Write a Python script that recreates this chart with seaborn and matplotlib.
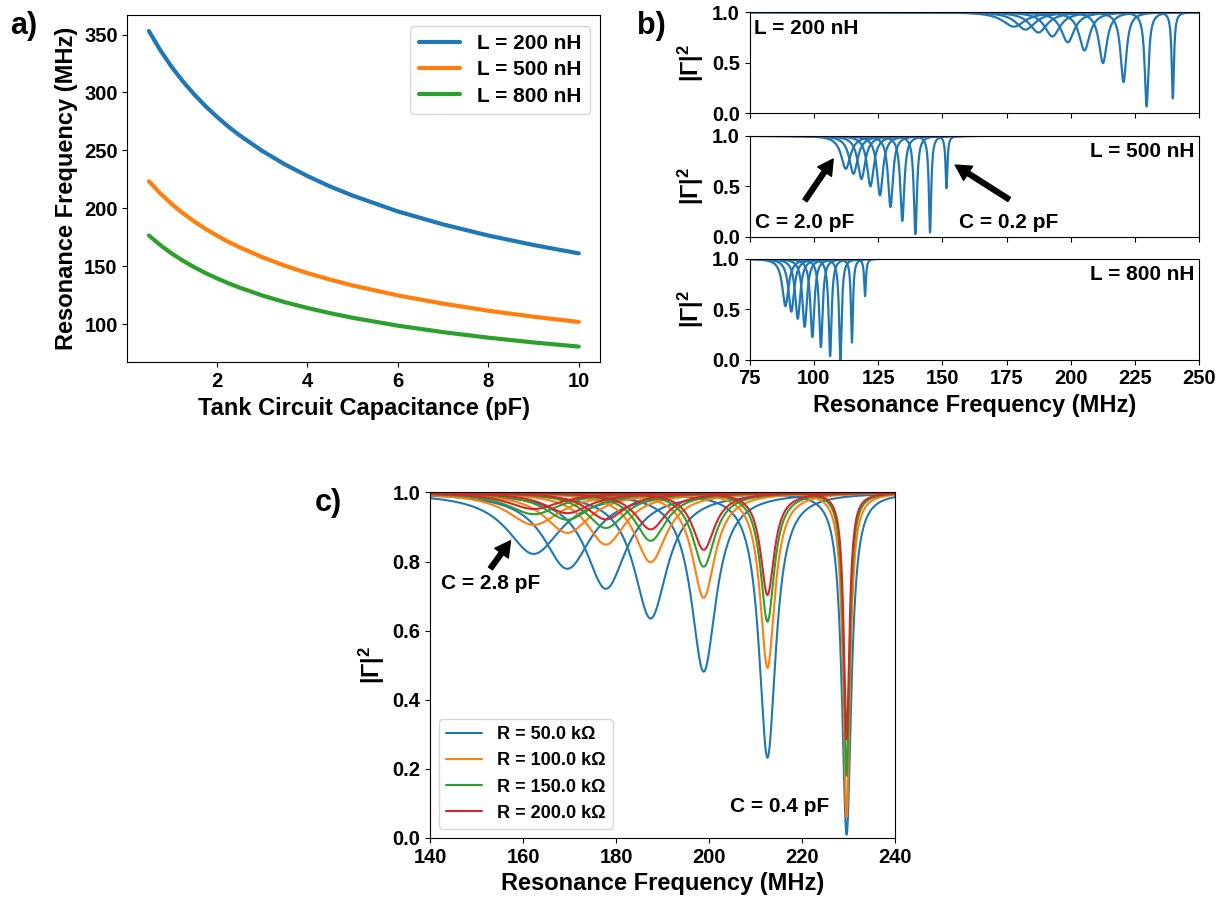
import numpy as np
import pandas as pd
import seaborn as sns
import matplotlib.pyplot as plt

# ---- panel a: resonance frequency (MHz) vs tank capacitance (pF)
cap_a = [0.5, 0.75, 1, 1.25, 1.5, 1.75, 2, 2.25, 2.5, 3, 3.5, 4, 4.5, 5, 6, 7, 8, 9, 10]
freq_200nH = [353, 336.6, 322.2, 309.6, 298.4, 288.2, 279.1, 270.7, 263.1, 249.6,
              238.0, 227.9, 218.9, 211.0, 197.3, 186.1, 176.5, 168.3, 161.1]
freq_500nH = [223.3, 212.9, 203.8, 195.8, 188.7, 182.3, 176.5, 171.2, 166.4, 157.9,
              150.5, 144.1, 138.5, 133.4, 124.8, 117.7, 111.6, 106.4, 101.9]
freq_800nH = [176.5, 168.3, 161.1, 154.8, 149.2, 144.1, 139.6, 135.4, 131.6, 124.8,
              119.0, 114.0, 109.5, 105.5, 98.7, 93.1, 88.3, 84.2, 80.6]
inductances = ["L = 200 nH", "L = 500 nH", "L = 800 nH"]

# ---- panel b: dip centre (MHz), dip minimum of |G|^2, half width (MHz) per capacitance
cap_b = [2.0, 1.8, 1.6, 1.4, 1.2, 1.0, 0.8, 0.6, 0.4, 0.2]
centers_200 = [177.8, 182.4, 187.4, 192.8, 198.8, 205.3, 212.5, 220.5, 229.5, 239.7]
depth_200 = [0.855, 0.826, 0.797, 0.758, 0.70, 0.619, 0.494, 0.306, 0.065, 0.145]
width_200 = [5.3, 4.6, 4.15, 3.6, 3.1, 2.5, 1.9, 1.4, 0.9, 0.53]
centers_500 = [112.4, 115.4, 118.5, 122.0, 125.7, 129.8, 134.4, 139.5, 145.2, 151.6]
depth_500 = [0.673, 0.624, 0.572, 0.50, 0.41, 0.294, 0.157, 0.026, 0.042, 0.48]
width_500 = [2.2, 2.0, 1.8, 1.6, 1.4, 1.15, 0.95, 0.73, 0.55, 0.43]
centers_800 = [88.9, 91.2, 93.7, 96.4, 99.4, 102.7, 106.3, 110.3, 114.8, 119.9]
depth_800 = [0.53, 0.475, 0.405, 0.325, 0.225, 0.125, 0.035, 0.0, 0.17, 0.63]
width_800 = [1.47, 1.35, 1.22, 1.09, 0.95, 0.82, 0.70, 0.62, 0.47, 0.41]

# ---- panel c: L = 200 nH, four resistances
cap_c = [2.8, 2.4, 2.0, 1.6, 1.2, 0.8, 0.4]
centers_c = [162.3, 169.5, 177.8, 187.4, 198.8, 212.5, 229.5]
resistances = ["R = 50.0 k\u03a9", "R = 100.0 k\u03a9", "R = 150.0 k\u03a9", "R = 200.0 k\u03a9"]
depth_50k = [0.822, 0.779, 0.721, 0.635, 0.481, 0.232, 0.009]
depth_100k = [0.906, 0.883, 0.849, 0.798, 0.695, 0.492, 0.060]
depth_150k = [0.937, 0.921, 0.897, 0.860, 0.785, 0.626, 0.180]
depth_200k = [0.952, 0.940, 0.922, 0.893, 0.834, 0.703, 0.285]
width_50k = [7.13, 6.21, 5.30, 4.37, 3.26, 2.20, 1.22]
width_100k = [6.97, 6.03, 5.10, 4.15, 3.01, 1.92, 0.88]
width_150k = [6.91, 5.97, 5.03, 4.08, 2.93, 1.82, 0.77]
width_200k = [6.88, 5.94, 5.00, 4.04, 2.89, 1.77, 0.72]


def dips(freq, caps, centers, depths, widths, label=None):
    # lorentzian dip in |Gamma|^2 for each capacitance
    rows = []
    for c, f0, d, w in zip(caps, centers, depths, widths):
        g = 1 - (1 - d) / (1 + ((freq - f0) / w) ** 2)
        rows.append(pd.DataFrame({"f": freq, "g": g, "C": c, "lab": label}))
    return pd.concat(rows, ignore_index=True)


sns.set_style("ticks")
plt.rcParams["font.family"] = ["Liberation Sans", "DejaVu Sans"]
plt.rcParams["font.weight"] = "bold"
plt.rcParams["axes.labelweight"] = "bold"
plt.rcParams["axes.edgecolor"] = "black"
plt.rcParams["axes.labelcolor"] = "black"
plt.rcParams["text.color"] = "black"
plt.rcParams["xtick.color"] = "black"
plt.rcParams["ytick.color"] = "black"
plt.rcParams["mathtext.fontset"] = "custom"
plt.rcParams["mathtext.bf"] = "Liberation Sans:bold"
plt.rcParams["mathtext.rm"] = "Liberation Sans:bold"

TICK = 14.5
LAB = 17
TXT = 15
pal = sns.color_palette("tab10")
gamma_lab = r"$\mathbf{|\Gamma|^2}$"

fig = plt.figure(figsize=(12.25, 8.97), dpi=100)

# ---------------- a)
ax_a = fig.add_axes([0.104, 0.596, 0.386, 0.387])
df_a = pd.DataFrame({
    "C": cap_a * 3,
    "f": freq_200nH + freq_500nH + freq_800nH,
    "L": [inductances[0]] * len(cap_a) + [inductances[1]] * len(cap_a) + [inductances[2]] * len(cap_a),
})
sns.lineplot(data=df_a, x="C", y="f", hue="L", palette=pal[:3], lw=3, ax=ax_a)
ax_a.set_xlabel("Tank Circuit Capacitance (pF)", fontsize=LAB)
ax_a.set_ylabel("Resonance Frequency (MHz)", fontsize=LAB)
ax_a.set_xticks([2, 4, 6, 8, 10])
ax_a.set_yticks([100, 150, 200, 250, 300, 350])
ax_a.tick_params(labelsize=TICK)
ax_a.legend(title=None, fontsize=TXT, loc="upper right", labelspacing=0.35)
fig.text(0.008, 0.962, "a)", fontsize=22, fontweight="bold")

# ---------------- b)
freq_b = np.linspace(75, 250, 6000)
panel_b = [
    (centers_200, depth_200, width_200, "L = 200 nH", 0.874),
    (centers_500, depth_500, width_500, "L = 500 nH", 0.736),
    (centers_800, depth_800, width_800, "L = 800 nH", 0.599),
]
axes_b = []
for i, (cen, dep, wid, lab, y0) in enumerate(panel_b):
    ax = fig.add_axes([0.612, y0, 0.367, 0.1126])
    df_b = dips(freq_b, cap_b, cen, dep, wid)
    sns.lineplot(data=df_b, x="f", y="g", units="C", estimator=None,
                 color=pal[0], lw=1.6, ax=ax)
    ax.set_xlim(75, 250)
    ax.set_ylim(0, 1)
    ax.set_yticks([0, 0.5, 1.0])
    ax.set_xticks([75, 100, 125, 150, 175, 200, 225, 250])
    ax.tick_params(labelsize=TICK)
    ax.set_ylabel(gamma_lab, fontsize=LAB)
    if i < 2:
        ax.set_xticklabels([])
        ax.set_xlabel("")
    else:
        ax.set_xlabel("Resonance Frequency (MHz)", fontsize=LAB)
    if i == 0:
        ax.text(0.01, 0.84, lab, transform=ax.transAxes, fontsize=TXT,
                fontweight="bold", ha="left", va="center")
    else:
        ax.text(0.99, 0.84, lab, transform=ax.transAxes, fontsize=TXT,
                fontweight="bold", ha="right", va="center")
    axes_b.append(ax)

ax_mid = axes_b[1]
arrow = dict(facecolor="black", edgecolor="black", width=3.5, headwidth=12, headlength=11)
ax_mid.annotate("", xy=(107.5, 0.77), xytext=(96.5, 0.36), arrowprops=arrow)
ax_mid.annotate("", xy=(155, 0.71), xytext=(176, 0.37), arrowprops=arrow)
ax_mid.text(77, 0.05, "C = 2.0 pF", fontsize=TXT, fontweight="bold", va="bottom")
ax_mid.text(156.5, 0.05, "C = 0.2 pF", fontsize=TXT, fontweight="bold", va="bottom")
fig.text(0.52, 0.962, "b)", fontsize=22, fontweight="bold")

# ---------------- c)
ax_c = fig.add_axes([0.351, 0.066, 0.380, 0.385])
freq_c = np.linspace(140, 240, 6000)
df_c = pd.concat([
    dips(freq_c, cap_c, centers_c, depth_50k, width_50k, resistances[0]),
    dips(freq_c, cap_c, centers_c, depth_100k, width_100k, resistances[1]),
    dips(freq_c, cap_c, centers_c, depth_150k, width_150k, resistances[2]),
    dips(freq_c, cap_c, centers_c, depth_200k, width_200k, resistances[3]),
], ignore_index=True)
sns.lineplot(data=df_c, x="f", y="g", hue="lab", units="C", estimator=None,
             palette=pal[:4], lw=1.5, ax=ax_c)
ax_c.set_xlim(140, 240)
ax_c.set_ylim(0, 1)
ax_c.set_xticks([140, 160, 180, 200, 220, 240])
ax_c.set_yticks([0, 0.2, 0.4, 0.6, 0.8, 1.0])
ax_c.tick_params(labelsize=TICK)
ax_c.set_xlabel("Resonance Frequency (MHz)", fontsize=LAB)
ax_c.set_ylabel(gamma_lab, fontsize=LAB)
ax_c.legend(title=None, fontsize=13, loc="lower left")
ax_c.annotate("", xy=(157.3, 0.86), xytext=(153, 0.78), arrowprops=arrow)
ax_c.text(142.3, 0.735, "C = 2.8 pF", fontsize=TXT, fontweight="bold", va="center")
ax_c.text(204.5, 0.09, "C = 0.4 pF", fontsize=TXT, fontweight="bold", va="center")
fig.text(0.257, 0.43, "c)", fontsize=22, fontweight="bold")

fig.savefig("out.png", dpi=100)
